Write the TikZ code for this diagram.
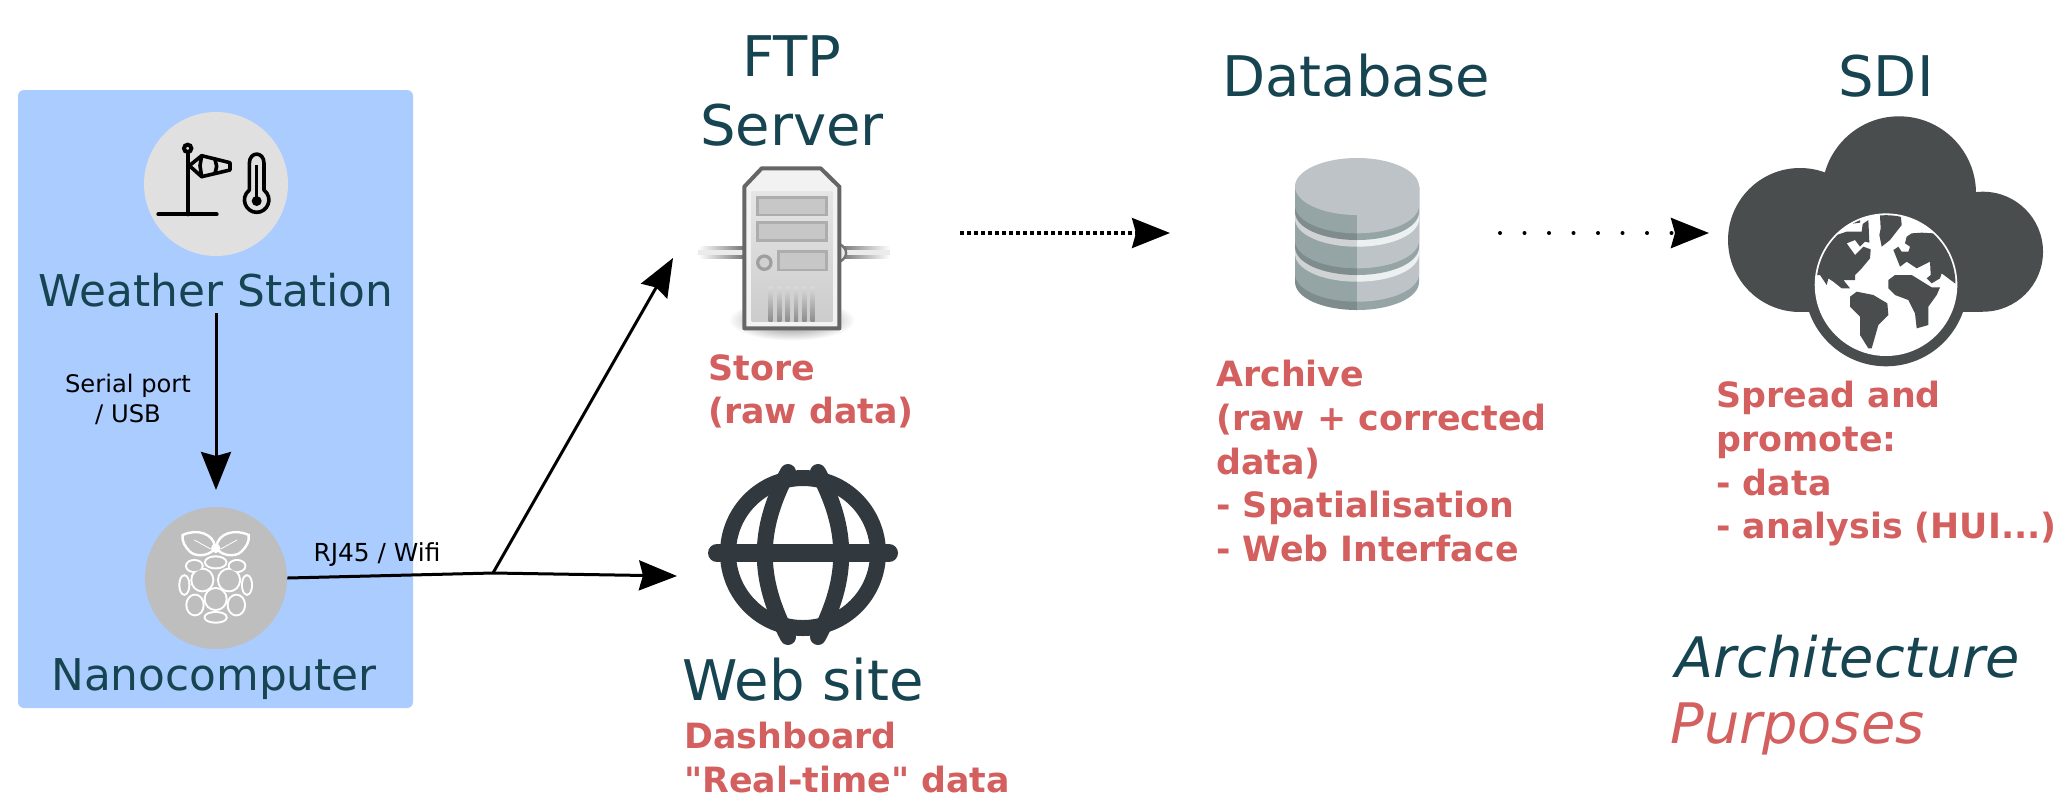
\documentclass[tikz,border=0pt]{standalone}
\usepackage{fontspec}
\setmainfont{DejaVu Sans}[Ligatures=TeXOff]
\usetikzlibrary{arrows.meta}
\definecolor{teal1}{HTML}{164450}
\definecolor{red1}{HTML}{D35F5F}
\definecolor{blue1}{HTML}{AACCFF}
\definecolor{cloudc}{HTML}{4A4D4E}
\definecolor{webc}{HTML}{32393E}
\definecolor{dbA}{HTML}{BDC3C7}
\definecolor{dbB}{HTML}{95A5A6}
\definecolor{dbC}{HTML}{7F8C8D}
\definecolor{dbD}{HTML}{ECF0F1}
\newcommand{\fs}[2]{\fontsize{#1}{#2}\selectfont}
\newcommand{\firstline}{\rule{0pt}{10pt}}
% band of the database: bottom centre y, colours left/right
\newcommand{\dbband}[3]{%
 \fill[#2] (1295,186.5) -- (1295,{#1-28}) .. controls (1295,{#1-12}) and (1323,#1) .. (1357,#1) -- (1357,186.5) -- cycle;
 \fill[#3] (1419,186.5) -- (1419,{#1-28}) .. controls (1419,{#1-12}) and (1391,#1) .. (1357,#1) -- (1357,186.5) -- cycle;}
\tikzset{
 head/.style={-{Stealth[length=19pt,width=15pt,inset=2pt]}},
 arrowline/.style={head,draw=black,line width=1.5pt},
 title/.style={text=teal1,anchor=base,inner sep=0pt,font=\fs{28}{34}},
 smalltitle/.style={text=teal1,anchor=base,inner sep=0pt,font=\fs{21.9}{27}},
 purpose/.style={text=red1,anchor=north west,inner sep=0pt,align=left,font=\fs{17.4}{21.8}\bfseries},
 legend/.style={anchor=base west,inner sep=0pt,font=\fs{27.9}{34}\itshape},
 small/.style={text=black,inner sep=0pt,anchor=base,align=center,font=\fs{12.1}{15}},
 disc/.style={circle,inner sep=0pt,minimum size=#1*0.5pt},
 zoomed/.style={x=0.16667pt,y=-0.16667pt},
 iconline/.style={draw=black,line width=2pt,line cap=round,line join=round},
 rasp/.style={draw=white,line width=1.2pt,fill=black!25.5},
}
\begin{document}
\begin{tikzpicture}[x=0.5pt,y=-0.5pt]
\useasboundingbox (0,0) rectangle (2054,810);
\fill[white] (0,0) rectangle (2054,810);
% station panel
\fill[blue1,rounded corners=3pt] (18,90) rectangle (413,708);
\node[disc=144,fill=black!12] (ws) at (216,184) {};
\node[disc=142,fill=black!25.5] (nano) at (216,578) {};
\node[smalltitle] (wslabel) at (216,306) {Weather Station};
\node[smalltitle] (nanolabel) at (214,690) {Nanocomputer};
% windsock and thermometer
\begin{scope}[shift={(0,70)},zoomed]
 \draw[iconline] (475,433) -- (650,433);
 \draw[iconline] (563,248) -- (563,433);
 \draw[black,line width=2pt] (563,235) circle (11);
 \draw[iconline,line width=1.8pt] (568,287) -- (605,257) -- (690,278) -- (690,300) -- (605,320) -- cycle;
 \draw[iconline,line width=1.8pt] (605,257) -- (600,287) -- (605,320) (645,268) -- (650,289) -- (645,310);
 \draw[iconline,line width=1.8pt] (748,360) -- (748,280) .. controls (748,243) and (792,243) .. (792,280) -- (792,360) .. controls (822,385) and (802,427) .. (770,427) .. controls (738,427) and (718,385) .. (748,360) -- cycle;
 \draw[black,line width=1.6pt] (770,285) -- (770,380);
 \fill[black] (770,393) circle (15);
\end{scope}
% raspberry
\begin{scope}[shift={(0,480)},zoomed]
 \draw[rasp] (548,165) .. controls (590,145) and (640,160) .. (645,200) .. controls (640,225) and (590,235) .. (570,215) .. controls (555,200) and (545,185) .. cycle;
 \draw[rasp] (746,165) .. controls (704,145) and (654,160) .. (649,200) .. controls (654,225) and (704,235) .. (724,215) .. controls (739,200) and (749,185) .. cycle;
 \draw[white,line width=0.4pt] (583,180) -- (632,207) (711,180) -- (662,207);
 \fill[white] (647,205) circle (14);
 \foreach \cx/\cy/\rx/\ry in {647/247/29/15,583/258/22/15,711/258/22/15,607/300/30/31,687/300/30/31,553/315/12/26,741/315/12/26,647/357/30/30,585/375/23/28,709/375/23/28,647/412/30/13}
  \draw[white,line width=2pt] (\cx,\cy) ellipse [x radius=\rx, y radius=\ry];
 \foreach \cx/\cy/\rx/\ry in {647/247/29/15,583/258/22/15,711/258/22/15,607/300/30/31,687/300/30/31,553/315/12/26,741/315/12/26,647/357/30/30,585/375/23/28,709/375/23/28,647/412/30/13}
  \fill[black!25.5] (\cx,\cy) ellipse [x radius=\rx, y radius=\ry];
\end{scope}
% server
\begin{scope}[shift={(680,140)},zoomed]
 \shade[inner color=black!55,outer color=white] (335,540) ellipse [x radius=190, y radius=62];
 \shade[left color=white,right color=black!55] (55,320) rectangle (195,329);
 \shade[left color=white,right color=black!55] (55,346) rectangle (195,355);
 \fill[black!8] (55,329) rectangle (195,346);
 \shade[right color=white,left color=black!55] (480,320) rectangle (630,329);
 \shade[right color=white,left color=black!55] (480,346) rectangle (630,355);
 \fill[black!8] (480,329) rectangle (630,346);
 \draw[black!55,fill=black!8,line width=1.2pt] (478,312) .. controls (505,325) and (505,352) .. (478,366);
 \draw[black!60,line width=2pt,fill=black!5,line join=round] (245,85) -- (422,85) -- (478,140) -- (478,565) -- (193,565) -- (193,140) -- cycle;
 \shade[top color=black!10,bottom color=black!20] (215,155) rectangle (457,545);
 \foreach \ya/\yb/\xa in {172/225/232,248/302/232,335/390/295}
  \draw[black!32,fill=black!22,line width=1.2pt] (\xa,\ya) rectangle (440,\yb);
 \draw[black!38,fill=black!18,line width=1.6pt] (253,368) circle (20);
 \foreach \vx in {272,298,323,348,373,398}
  \shade[top color=black!15,bottom color=black!45] (\vx-6,440) rectangle (\vx+6,545);
\end{scope}
% web globe
\draw[webc,line width=8pt] (803,553) circle (75);
\draw[webc,line width=9pt,line cap=round] (717,553) -- (889,553);
\draw[webc,line width=8pt,line cap=round] (788,472) .. controls (757,530) and (757,578) .. (788,637);
\draw[webc,line width=8pt,line cap=round] (818,472) .. controls (849,530) and (849,578) .. (818,637);
% database
\dbband{310}{dbC}{dbB}
\dbband{301.7}{dbB}{dbA}
\dbband{281.7}{black!12!dbD}{dbD}
\dbband{275}{dbC}{dbB}
\dbband{268.3}{dbB}{dbA}
\dbband{246.7}{black!12!dbD}{dbD}
\dbband{240}{dbC}{dbB}
\dbband{233.3}{dbB}{dbA}
\fill[dbA] (1357,186.5) ellipse [x radius=62, y radius=28.5];
% cloud
\fill[cloudc] (1899,193.3) circle (77);
\fill[cloudc] (1800,240) circle (72);
\fill[cloudc] (1983,251.7) circle (60);
\fill[cloudc] (1800,240) rectangle (1983,311.7);
\fill[cloudc] (1886,284.7) circle (81.6);
\fill[white] (1886,284.7) circle (71.3);
\begin{scope}
 \clip (1886,284.7) circle (69.5);
 \begin{scope}[shift={(1800,200)},zoomed]
  \fill[cloudc] (30,200) -- (80,140) -- (110,105) -- (140,95) -- (185,95) -- (188,72) -- (205,60) -- (208,128) -- (195,125) -- (180,140) -- (165,120) -- (140,130) -- (165,165) -- (180,150) -- (190,140) -- (212,148) -- (210,175) -- (185,205) -- (165,225) -- (165,240) -- (130,240) -- (150,265) -- (125,265) -- (100,245) -- (85,235) -- (80,255) -- (60,225) -- (30,225) -- cycle;
  \fill[cloudc] (100,75) -- (180,40) -- (180,68) -- (150,72) -- (110,90) -- cycle;
  \fill[cloudc] (240,50) -- (240,20) -- (300,20) -- (305,75) -- (270,120) -- (245,140) -- (238,105) -- (242,85) -- cycle;
  \fill[cloudc] (150,290) -- (170,275) -- (220,285) -- (262,310) -- (265,345) -- (235,375) -- (215,445) -- (205,445) -- (180,405) -- (180,350) -- (150,320) -- cycle;
  \fill[cloudc] (265,240) -- (285,225) -- (335,225) -- (395,262) -- (420,262) -- (410,285) -- (385,320) -- (385,375) -- (350,385) -- (345,340) -- (325,300) -- (285,285) -- (265,265) -- cycle;
  \fill[cloudc] (320,110) -- (335,100) -- (365,98) -- (400,100) -- (430,60) -- (500,120) -- (500,260) -- (465,250) -- (425,220) -- (420,235) -- (395,250) -- (380,235) -- (392,225) -- (390,185) -- (350,205) -- (320,185) -- (300,200) -- (290,175) -- (280,150) -- (295,140) -- (305,155) -- (325,155) -- (330,140) -- (315,130) -- cycle;
 \end{scope}
\end{scope}
% connectors
\coordinate (wsdown) at (216,313);
\coordinate (nanotop) at (216,490);
\coordinate (fork) at (493,573);
\coordinate (ftpin) at (673,258);
\coordinate (webin) at (677,576);
\coordinate (dot1a) at (960,233);
\coordinate (dot1b) at (1170,233);
\coordinate (dot2a) at (1500,233);
\coordinate (dot2b) at (1709,233);
\draw[arrowline] (wsdown) -- (nanotop);
\draw[black,line width=1.5pt] (nano.east) -- (fork);
\draw[arrowline] (fork) -- (ftpin);
\draw[arrowline] (fork) -- (webin);
\draw[head,black,line width=1.6pt,dash pattern=on 1.75pt off 1.75pt] (dot1a) -- (dot1b);
\draw[head,black,line width=2pt,line cap=round,dash pattern=on 0pt off 12.25pt] (dot2a) -- (dot2b);
% labels
\node[small] (serial) at (128,422) {Serial port\\/ USB};
\node[small,font=\fs{12.4}{15}] (rj) at (377,561) {RJ45 / Wifi};
\node[title] (ftp) at (792,76) {FTP};
\node[title] (server) at (792,145) {Server};
\node[title] (web) at (803,700) {Web site};
\node[title] (db) at (1356,96) {Database};
\node[title] (sdi) at (1886,96) {SDI};
\node[purpose] (p1) at (708,354) {\firstline Store\\(raw data)};
\node[purpose] (p2) at (684,722) {\firstline Dashboard\\"Real-time" data};
\node[purpose] (p3) at (1216,360) {\firstline Archive\\(raw + corrected\\data)\\- Spatialisation\\- Web Interface};
\node[purpose] (p4) at (1716,381) {\firstline Spread and\\promote:\\- data\\- analysis (HUI...)};
\node[legend,text=teal1] (l1) at (1675,677) {Architecture};
\node[legend,text=red1] (l2) at (1670,743) {Purposes};
\end{tikzpicture}
\end{document}
